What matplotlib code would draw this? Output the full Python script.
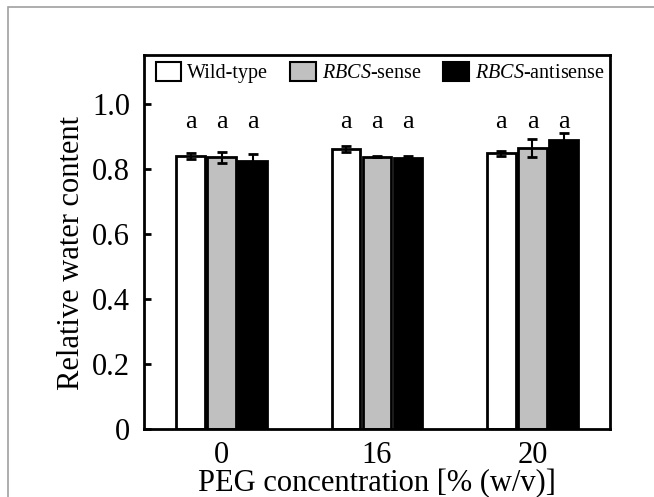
import numpy as np
import matplotlib.pyplot as plt
from matplotlib.patches import Rectangle, Patch

# data
groups = ["0", "16", "20"]
series = ["Wild-type", "$\\it{RBCS}$-sense", "$\\it{RBCS}$-antisense"]
wild_type = [0.840, 0.861, 0.848]
rbcs_sense = [0.836, 0.838, 0.865]
rbcs_antisense = [0.825, 0.835, 0.889]
wild_type_err = [0.010, 0.010, 0.008]
rbcs_sense_err = [0.017, 0.002, 0.027]
rbcs_antisense_err = [0.020, 0.006, 0.020]
letters = [["a", "a", "a"], ["a", "a", "a"], ["a", "a", "a"]]
colors = ["white", "#c0c0c0", "black"]

plt.rcParams["font.family"] = ["Liberation Serif", "DejaVu Serif"]
plt.rcParams["mathtext.fontset"] = "custom"
plt.rcParams["mathtext.it"] = "Liberation Serif:italic"
plt.rcParams["mathtext.rm"] = "Liberation Serif"

fig = plt.figure(figsize=(6.54, 4.97), dpi=100)
# light grey outer frame
fig.patches.append(Rectangle((8 / 654, -0.1), 1.2, 1 - 7 / 497 + 0.1, transform=fig.transFigure,
                             fill=False, edgecolor="#a0a0a0", linewidth=1.2))
ax = fig.add_axes([0.220, 0.137, 0.713, 0.752])

x = np.arange(len(groups))
values = [wild_type, rbcs_sense, rbcs_antisense]
errs = [wild_type_err, rbcs_sense_err, rbcs_antisense_err]
offsets = [-0.2, 0.0, 0.2]
width = 0.185

for i in range(3):
    ax.bar(x + offsets[i], values[i], width, color=colors[i], edgecolor="black", linewidth=2, zorder=2)
    ax.errorbar(x + offsets[i], values[i], yerr=errs[i], fmt="none", ecolor="black",
                elinewidth=1.5, capsize=3.5, capthick=2, zorder=3)
    for j in range(3):
        ax.text(x[j] + offsets[i], 0.945, letters[j][i], ha="center", va="center", fontsize=19)

ax.set_xlim(-0.5, 2.5)
ax.set_ylim(0, 1.15)
ax.set_xticks(x)
ax.set_xticklabels(groups)
ax.set_yticks([0, 0.2, 0.4, 0.6, 0.8, 1.0])
ax.set_yticklabels(["0", "0.2", "0.4", "0.6", "0.8", "1.0"])
ax.tick_params(axis="x", length=0, labelsize=22, pad=9)
ax.tick_params(axis="y", direction="in", length=5, width=2, labelsize=22, pad=10)
for s in ax.spines.values():
    s.set_linewidth(2)
ax.set_xlabel("PEG concentration [% (w/v)]", fontsize=22, labelpad=-1)
ax.set_ylabel("Relative water content", fontsize=22)
ax.yaxis.set_label_coords(-0.125, 0.47)

handles = [Patch(facecolor=c, edgecolor="black", linewidth=1.5) for c in colors]
ax.legend(handles, series, loc="upper left", bbox_to_anchor=(0.0, 1.015), ncol=3, frameon=False,
          fontsize=14.5, handlelength=1.25, handleheight=1.1, handletextpad=0.3, columnspacing=1.1,
          borderaxespad=0.2)

fig.savefig("out.png", dpi=100)
